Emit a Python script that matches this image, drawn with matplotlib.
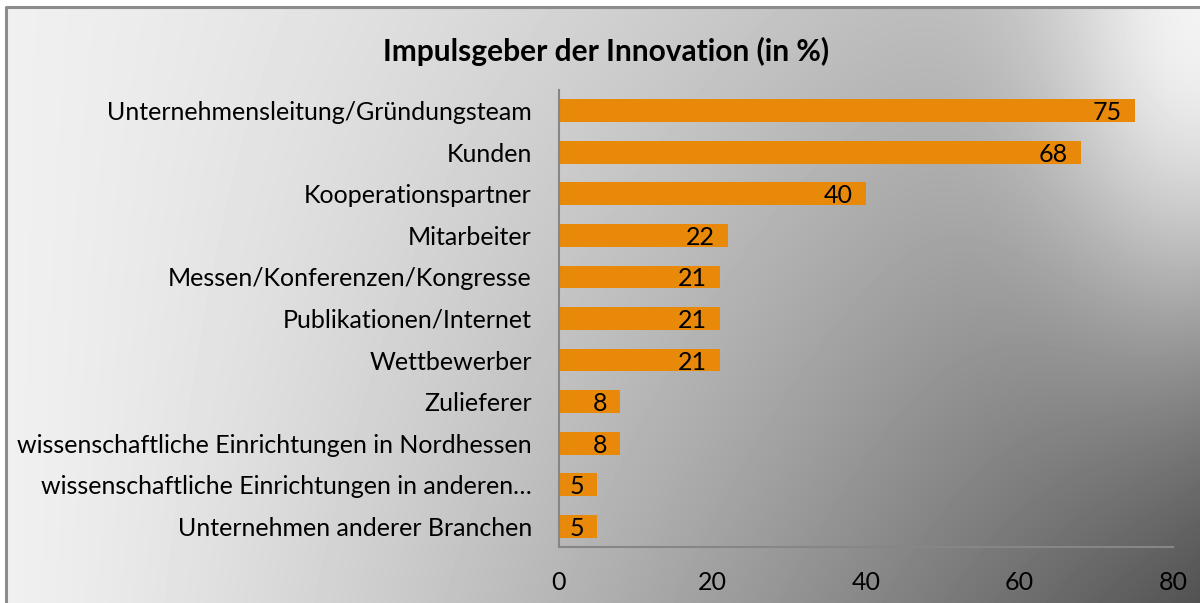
import numpy as np
import matplotlib
matplotlib.use("Agg")
import matplotlib.pyplot as plt

# data, top to bottom as in the chart
categories = [
  "Unternehmensleitung/Gründungsteam",
  "Kunden",
  "Kooperationspartner",
  "Mitarbeiter",
  "Messen/Konferenzen/Kongresse",
  "Publikationen/Internet",
  "Wettbewerber",
  "Zulieferer",
  "wissenschaftliche Einrichtungen in Nordhessen",
  "wissenschaftliche Einrichtungen in anderen…",
  "Unternehmen anderer Branchen",
]
values = [75, 68, 40, 22, 21, 21, 21, 8, 8, 5, 5]
x_ticks = [0, 20, 40, 60, 80]
title = "Impulsgeber der Innovation (in %)"

W, H, DPI = 1200, 603, 100
FONT = ["Lato", "DejaVu Sans"]
BAR_COLOR = "#E8890A"
AXIS_COLOR = "#868686"
LABEL_SIZE = 18

plt.rcParams["font.family"] = FONT


def _background(width: int, height: int) -> np.ndarray:
  """gray gradient: light on the left, dark bottom right, highlight top right"""
  xs = np.linspace(0.0, 1.0, width)
  ys = np.linspace(0.0, 1.0, height)
  gx, gy = np.meshgrid(xs, ys)
  base = 0.94 - gx ** 1.3 * (0.30 + 0.33 * gy)
  w = np.exp(-((1.0 - gx) / 0.14) ** 2 - (gy / 0.5) ** 2)
  val = base + w * (0.95 - base)
  return np.clip(val, 0, 1)


fig = plt.figure(figsize=(W / DPI, H / DPI), dpi=DPI, facecolor="white")

# background + frame in pixel coordinates
bg = fig.add_axes([0, 0, 1, 1], zorder=0)
bg.set_xlim(0, W)
bg.set_ylim(H, 0)
bg.axis("off")
x0, y0 = 6, 7
bg.imshow(_background(W - x0, H - y0), cmap="gray", vmin=0, vmax=1,
          extent=(x0, W, H, y0), aspect="auto", interpolation="bilinear")
bg.plot([x0, x0, W], [H, y0, y0], color="#8c8c8c", lw=2.2, solid_capstyle="butt")

ax = fig.add_axes([559 / W, 1 - 547 / H, (1173 - 559) / W, (547 - 90) / H], zorder=1)
ax.patch.set_alpha(0)

pos = np.arange(len(categories))
bars = ax.barh(pos, values, height=0.55, color=BAR_COLOR)
ax.set_ylim(len(categories) - 0.5, -0.5)
ax.set_xlim(x_ticks[0], x_ticks[-1])
ax.set_yticks(pos)
ax.set_yticklabels(categories)
ax.set_xticks(x_ticks)
ax.set_xticklabels([str(v) for v in x_ticks])
ax.tick_params(axis="both", length=0, labelsize=LABEL_SIZE, colors="black")
ax.tick_params(axis="y", pad=19.5)
ax.tick_params(axis="x", pad=17)

for s in ("top", "right"):
  ax.spines[s].set_visible(False)
for s in ("left", "bottom"):
  ax.spines[s].set_color(AXIS_COLOR)
  ax.spines[s].set_linewidth(1.5)

for b, v in zip(bars, values):
  ax.annotate(str(v), xy=(b.get_width(), b.get_y() + b.get_height() / 2),
              xytext=(-13, -2), textcoords="offset pixels",
              ha="right", va="center", fontsize=LABEL_SIZE, color="black")

fig.text(606 / W, 1 - 51 / H, title, ha="center", va="center",
         fontsize=21.5, fontweight="bold")

fig.savefig("out.png", dpi=DPI, facecolor="white")
